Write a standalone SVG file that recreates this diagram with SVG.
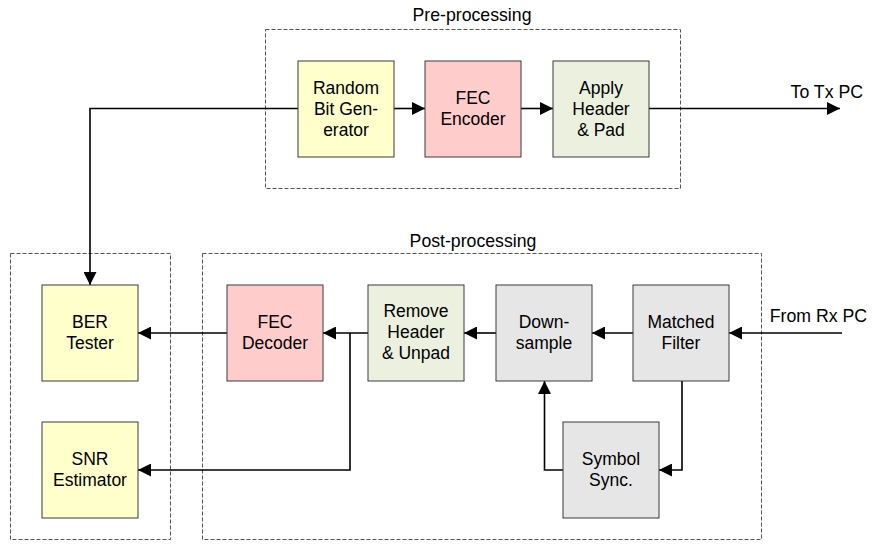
<svg xmlns="http://www.w3.org/2000/svg" width="872" height="544" viewBox="0 0 872 544">
  <style>
    .grp { fill: none; stroke: #555555; stroke-width: 1; stroke-dasharray: 4 2; }
    .blk { stroke: #3a3a3a; stroke-width: 1; }
    .yel { fill: #ffffcc; }
    .red { fill: #ffcccc; }
    .grn { fill: #ebf1de; }
    .gry { fill: #e6e6e6; }
    .lbl { font-family: "Liberation Sans", Arial, sans-serif; font-size: 17.5px; fill: #000; text-anchor: middle; }
    .cap { font-family: "Liberation Sans", Arial, sans-serif; font-size: 17.7px; fill: #000; }
    .wire { fill: none; stroke: #000; stroke-width: 1.6; }
  </style>
  <defs>
    <marker id="arrow" markerUnits="userSpaceOnUse" markerWidth="14" markerHeight="13" refX="13" refY="6.5" orient="auto">
      <path d="M0,0 L13,6.5 L0,13 z" fill="#000"/>
    </marker>
  </defs>
  <rect width="872" height="544" fill="#ffffff"/>

  <!-- grouping frames -->
  <g id="frames">
    <rect class="grp" x="265.5" y="29.5" width="415" height="159"/>
    <text class="cap" x="472" y="20.5" text-anchor="middle">Pre-processing</text>
    <rect class="grp" x="202.5" y="253.5" width="559" height="286"/>
    <text class="cap" x="473" y="247" text-anchor="middle">Post-processing</text>
    <rect class="grp" x="10.5" y="253.5" width="160" height="286"/>
  </g>

  <!-- connectors -->
  <g id="connectors">
    <path class="wire" d="M298,108.5 H90 V285" marker-end="url(#arrow)"/>
    <path class="wire" d="M394,108.5 H425" marker-end="url(#arrow)"/>
    <path class="wire" d="M521,108.5 H553" marker-end="url(#arrow)"/>
    <path class="wire" d="M649,108.5 H840" marker-end="url(#arrow)"/>
    <path class="wire" d="M842,333 H729" marker-end="url(#arrow)"/>
    <path class="wire" d="M633,333 H592" marker-end="url(#arrow)"/>
    <path class="wire" d="M496,333 H464" marker-end="url(#arrow)"/>
    <path class="wire" d="M368,333 H323" marker-end="url(#arrow)"/>
    <path class="wire" d="M227,333 H138" marker-end="url(#arrow)"/>
    <path class="wire" d="M350,333 V470 H138" marker-end="url(#arrow)"/>
    <path class="wire" d="M682,381 V470 H659" marker-end="url(#arrow)"/>
    <path class="wire" d="M563,470 H544.5 V381" marker-end="url(#arrow)"/>
    <text class="cap" x="863" y="98" text-anchor="end">To Tx PC</text>
    <text class="cap" x="867" y="322" text-anchor="end">From Rx PC</text>
  </g>

  <g id="random-bit-generator">
    <rect class="blk yel" x="298" y="61" width="96" height="96"/>
    <text class="lbl" x="346" y="93.5">Random</text>
    <text class="lbl" x="346" y="114.5">Bit Gen-</text>
    <text class="lbl" x="346" y="135.5">erator</text>
  </g>
  <g id="fec-encoder">
    <rect class="blk red" x="425" y="61" width="96" height="96"/>
    <text class="lbl" x="473" y="103.5">FEC</text>
    <text class="lbl" x="473" y="124.5">Encoder</text>
  </g>
  <g id="apply-header-pad">
    <rect class="blk grn" x="553" y="61" width="96" height="96"/>
    <text class="lbl" x="601" y="93.5">Apply</text>
    <text class="lbl" x="601" y="114.5">Header</text>
    <text class="lbl" x="601" y="135.5">&amp; Pad</text>
  </g>

  <g id="ber-tester">
    <rect class="blk yel" x="42" y="285" width="96" height="96"/>
    <text class="lbl" x="90" y="327.5">BER</text>
    <text class="lbl" x="90" y="348.5">Tester</text>
  </g>
  <g id="snr-estimator">
    <rect class="blk yel" x="42" y="422" width="96" height="96"/>
    <text class="lbl" x="90" y="464.5">SNR</text>
    <text class="lbl" x="90" y="485.5">Estimator</text>
  </g>
  <g id="fec-decoder">
    <rect class="blk red" x="227" y="285" width="96" height="96"/>
    <text class="lbl" x="275" y="327.5">FEC</text>
    <text class="lbl" x="275" y="348.5">Decoder</text>
  </g>
  <g id="remove-header-unpad">
    <rect class="blk grn" x="368" y="285" width="96" height="96"/>
    <text class="lbl" x="416" y="317">Remove</text>
    <text class="lbl" x="416" y="338">Header</text>
    <text class="lbl" x="416" y="359">&amp; Unpad</text>
  </g>
  <g id="downsample">
    <rect class="blk gry" x="496" y="285" width="96" height="96"/>
    <text class="lbl" x="544" y="327.5">Down-</text>
    <text class="lbl" x="544" y="348.5">sample</text>
  </g>
  <g id="matched-filter">
    <rect class="blk gry" x="633" y="285" width="96" height="96"/>
    <text class="lbl" x="681" y="327.5">Matched</text>
    <text class="lbl" x="681" y="348.5">Filter</text>
  </g>
  <g id="symbol-sync">
    <rect class="blk gry" x="563" y="422" width="96" height="96"/>
    <text class="lbl" x="611" y="464.5">Symbol</text>
    <text class="lbl" x="611" y="485.5">Sync.</text>
  </g>
</svg>
